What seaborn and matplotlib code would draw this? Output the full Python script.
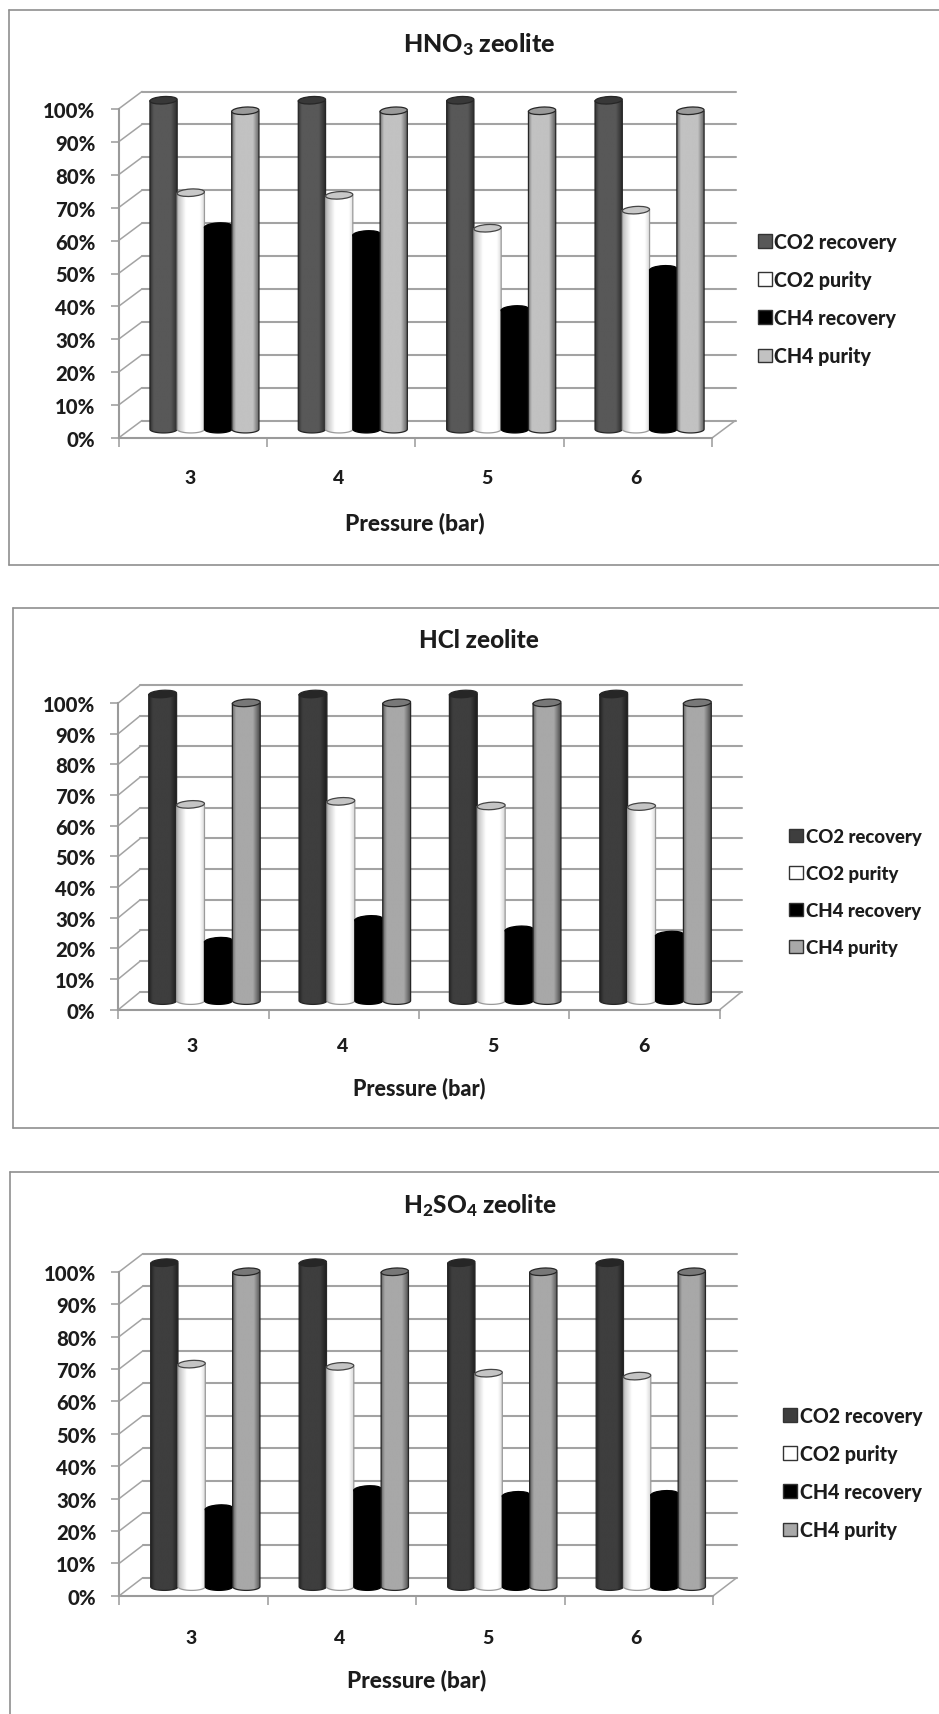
import numpy as np
import pandas as pd
import matplotlib
matplotlib.use("Agg")
import matplotlib.pyplot as plt
import seaborn as sns
from matplotlib.lines import Line2D
from matplotlib.patches import Ellipse, Patch, Polygon
from matplotlib.path import Path
from matplotlib.transforms import Affine2D, IdentityTransform

FIG_W, FIG_H, DPI = 939, 1715, 100
PX = 72 / DPI

pressures = ["3", "4", "5", "6"]
series_names = ["CO2 recovery", "CO2 purity", "CH4 recovery", "CH4 purity"]

hno3_co2_recovery = [100, 100, 100, 100]
hno3_co2_purity = [71.9, 71.1, 61.1, 66.6]
hno3_ch4_recovery = [61.6, 59.2, 36.4, 48.6]
hno3_ch4_purity = [96.8, 96.8, 96.8, 96.8]

hcl_co2_recovery = [100, 100, 100, 100]
hcl_co2_purity = [64.0, 65.0, 63.5, 63.3]
hcl_ch4_recovery = [19.4, 26.5, 23.1, 21.4]
hcl_ch4_purity = [97.1, 97.1, 97.1, 97.1]

h2so4_co2_recovery = [100, 100, 100, 100]
h2so4_co2_purity = [68.7, 68.0, 65.9, 65.0]
h2so4_ch4_recovery = [24.1, 30.0, 28.2, 28.5]
h2so4_ch4_purity = [97.2, 97.2, 97.2, 97.2]

WEIGHT = 900
sns.set_theme(style="white")
plt.rcParams["font.family"] = ["Lato", "DejaVu Sans"]
plt.rcParams["font.weight"] = WEIGHT
plt.rcParams["mathtext.default"] = "regular"

# Layout of each chart in pixels from the top left corner of the figure.
panels = [
    dict(title=r"HNO$_3$ zeolite", title_xy=(479, 52), title_size=18.0,
         values=[hno3_co2_recovery, hno3_co2_purity, hno3_ch4_recovery, hno3_ch4_purity],
         front=(118.5, 712.0, 110.0, 439.0), depth=(23.5, 17.5),
         frame=(8.5, 10.5, 565.5), bar_width=0.735,
         palette=["#585858", "#ffffff", "#000000", "#c2c2c2"],
         caps=["#383838", "#c8c8c8", "#000000", "#9a9a9a"],
         legend_xy=(758, 299.5), legend_gap=36.9, legend_size=14.1,
         tick_pad=22.9, tick_shift=-2.2, xlabel_pad=25.3, xlabel_size=16.4),
    dict(title="HCl zeolite", title_xy=(479, 648), title_size=17.5,
         values=[hcl_co2_recovery, hcl_co2_purity, hcl_ch4_recovery, hcl_ch4_purity],
         front=(118.3, 719.7, 704.0, 1010.7), depth=(22.0, 18.0),
         frame=(12.5, 608.5, 1129.0), bar_width=0.742,
         palette=["#3e3e3e", "#ffffff", "#000000", "#a8a8a8"],
         caps=["#262626", "#c4c4c4", "#000000", "#787878"],
         legend_xy=(789, 893), legend_gap=36.7, legend_size=13.4,
         tick_pad=18.9, tick_shift=-1.1, xlabel_pad=22.9, xlabel_size=15.5),
    dict(title=r"H$_2$SO$_4$ zeolite", title_xy=(480, 1213), title_size=17.6,
         values=[h2so4_co2_recovery, h2so4_co2_purity, h2so4_ch4_recovery, h2so4_ch4_purity],
         front=(119.3, 713.3, 1272.7, 1596.7), depth=(23.5, 18.0),
         frame=(10.3, 1173.0, None), bar_width=0.736,
         palette=["#3e3e3e", "#ffffff", "#000000", "#a8a8a8"],
         caps=["#262626", "#c4c4c4", "#000000", "#787878"],
         legend_xy=(783, 1473.5), legend_gap=36.9, legend_size=14.1,
         tick_pad=24.5, tick_shift=-2.7, xlabel_pad=22.5, xlabel_size=16.3),
]

GRID = "#a3a3a3"
EDGE = "#9a9a9a"
CAP_HALF = 3.7


def shading(n=80, light_bar=False):
    """Horizontal brightness profile of a lit cylinder."""
    t = np.linspace(0, 1, n)
    if light_bar:
        return np.interp(t, [0, 0.12, 0.32, 0.82, 1], [0.72, 0.84, 1, 1, 0.84])
    return np.interp(t, [0, 0.06, 0.14, 0.75, 1], [0.55, 0.78, 1, 1, 0.45])


def draw_cylinders(ax, panel, shift, scale_y):
    """Replace the flat seaborn bars by shaded cylinders at the same positions."""
    offset = Affine2D().translate(*shift) + IdentityTransform()
    trans = ax.transData + offset
    half = CAP_HALF / scale_y
    for idx, bar in enumerate(list(ax.patches)):
        level = idx // len(pressures)
        x, w, v = bar.get_x(), bar.get_width(), bar.get_height()
        bar.set_visible(False)
        color = panel["palette"][level]
        rgb = np.array(matplotlib.colors.to_rgb(color))
        light = color == "#ffffff"
        grad = shading(light_bar=light)[None, :, None] * rgb[None, None, :]
        z = 3 + level + idx * 0.001
        im = ax.imshow(grad, extent=(x, x + w, -half, v), aspect="auto",
                       interpolation="bilinear", zorder=z, transform=trans)
        th = np.linspace(0, np.pi, 30)
        arc_x = x + w / 2 + w / 2 * np.cos(th)
        arc_y = -half * np.sin(th)
        outline = np.vstack([[x + w, v], np.column_stack([arc_x, arc_y]), [x, v]])
        im.set_clip_path(Path(outline), trans)
        im.set_clip_box(ax.figure.bbox)
        edge = "#9a9a9a" if light else ("#000000" if color == "#000000" else "#262626")
        ax.add_patch(Polygon(outline, closed=False, fill=False, ec=edge, lw=0.9,
                             transform=trans, zorder=z, clip_on=False))
        cx, cy = trans.transform((x + w / 2, v))
        width_px = abs(trans.transform((x + w, 0))[0] - trans.transform((x, 0))[0])
        ax.add_patch(Ellipse((cx, cy), width_px, 2 * CAP_HALF, angle=3.5,
                             fc=panel["caps"][level], ec="#444444" if light else edge,
                             lw=0.9, transform=IdentityTransform(), zorder=z + 0.0005,
                             clip_on=False))
    ax.set_xlim(-0.5, len(pressures) - 0.5)
    ax.set_ylim(0, 100)


def draw_walls(ax, panel):
    """Back wall, side wall and floor of the box behind the cylinders."""
    dx, dy = panel["depth"]
    back = ax.transData + Affine2D().translate(dx, dy)
    xmin, xmax = -0.5, len(pressures) - 0.5
    for v in range(0, 101, 10):
        ax.plot([xmin, xmax], [v, v], color=GRID, lw=1.5, transform=back,
                zorder=1, clip_on=False)
        a = ax.transData.transform((xmin, v))
        b = back.transform((xmin, v))
        ax.plot([a[0], b[0]], [a[1], b[1]], color=GRID, lw=1.1,
                transform=IdentityTransform(), zorder=1, clip_on=False)
    a = ax.transData.transform((xmax, 0))
    b = back.transform((xmax, 0))
    ax.plot([a[0], b[0]], [a[1], b[1]], color=GRID, lw=1.1,
            transform=IdentityTransform(), zorder=1, clip_on=False)


fig = plt.figure(figsize=(FIG_W / DPI, FIG_H / DPI), dpi=DPI, facecolor="white")

for panel in panels:
    x0, x1, y_top, y_base = panel["front"]
    ax = fig.add_axes([x0 / FIG_W, 1 - y_base / FIG_H,
                       (x1 - x0) / FIG_W, (y_base - y_top) / FIG_H])
    ax.patch.set_alpha(0)

    frame_long = pd.DataFrame({
        "pressure": np.tile(pressures, len(series_names)),
        "series": np.repeat(series_names, len(pressures)),
        "value": np.concatenate(panel["values"]),
    })
    sns.barplot(data=frame_long, x="pressure", y="value", hue="series",
                order=pressures, hue_order=series_names,
                palette=panel["palette"], width=panel["bar_width"], gap=0,
                saturation=1, legend=False, errorbar=None, ax=ax)

    ax.set_xlim(-0.5, len(pressures) - 0.5)
    ax.set_ylim(0, 100)
    ax.set_yticks(range(0, 101, 10), [f"{v}%" for v in range(0, 101, 10)],
                  fontweight=WEIGHT)
    cat_px = (x1 - x0) / len(pressures)
    ax.set_xticks(np.arange(len(pressures)) + panel["tick_shift"] / cat_px, pressures,
                  fontweight=WEIGHT)
    ax.set_xticks(np.arange(-0.5, len(pressures)), minor=True)
    ax.tick_params(axis="y", which="major", left=True, length=8 * PX, width=1.1,
                   color=EDGE, pad=15 * PX, labelsize=14.6, labelcolor="#1c1c1c")
    ax.tick_params(axis="x", which="major", bottom=False, pad=panel["tick_pad"] * PX,
                   labelsize=14, labelcolor="#1c1c1c")
    ax.tick_params(axis="x", which="minor", bottom=True, length=8.5 * PX,
                   width=1.1, color=EDGE)
    ax.set_xlabel("Pressure (bar)", fontsize=panel["xlabel_size"], fontweight=WEIGHT,
                  color="#1c1c1c", labelpad=panel["xlabel_pad"] * PX)
    ax.set_ylabel("")
    sns.despine(ax=ax, top=True, right=True)
    for side in ("left", "bottom"):
        ax.spines[side].set_color(EDGE)
        ax.spines[side].set_linewidth(1.5)

    fig.canvas.draw()
    scale_y = (y_base - y_top) / 100
    dx, dy = panel["depth"]
    draw_walls(ax, panel)
    draw_cylinders(ax, panel, (dx / 2, dy / 2), scale_y)

    # Title and legend
    tx, ty = panel["title_xy"]
    fig.text(tx / FIG_W, 1 - ty / FIG_H, panel["title"], ha="center", va="baseline",
             fontsize=panel["title_size"], fontweight=WEIGHT, color="#1c1c1c")

    handles = [Patch(facecolor=c, edgecolor="#333333", linewidth=1.0,
                     label=name) for c, name in zip(panel["palette"], series_names)]
    fs = panel["legend_size"]
    fs_px = fs / PX
    lx, ly = panel["legend_xy"]
    ax.legend(handles=handles, loc="center left", frameon=False,
              bbox_to_anchor=(lx / FIG_W, 1 - ly / FIG_H), bbox_transform=fig.transFigure,
              borderaxespad=0, borderpad=0,
              handlelength=13.5 / fs_px, handleheight=13.5 / fs_px,
              handletextpad=3 / fs_px, labelspacing=(panel["legend_gap"] - fs_px * 0.9) / fs_px,
              labelcolor="#1c1c1c", prop=dict(size=fs, weight=WEIGHT))

    # Outer chart border, open on the right where it meets the figure edge
    left, top, bottom = panel["frame"]
    y_end = FIG_H if bottom is None else bottom
    border = dict(color="#8f8f8f", lw=1.2, transform=fig.transFigure)
    fig.add_artist(Line2D([left / FIG_W, 1], [1 - top / FIG_H] * 2, **border))
    fig.add_artist(Line2D([left / FIG_W] * 2, [1 - top / FIG_H, 1 - y_end / FIG_H], **border))
    if bottom is not None:
        fig.add_artist(Line2D([left / FIG_W, 1], [1 - bottom / FIG_H] * 2, **border))

fig.savefig("out.png", dpi=DPI, facecolor="white")
